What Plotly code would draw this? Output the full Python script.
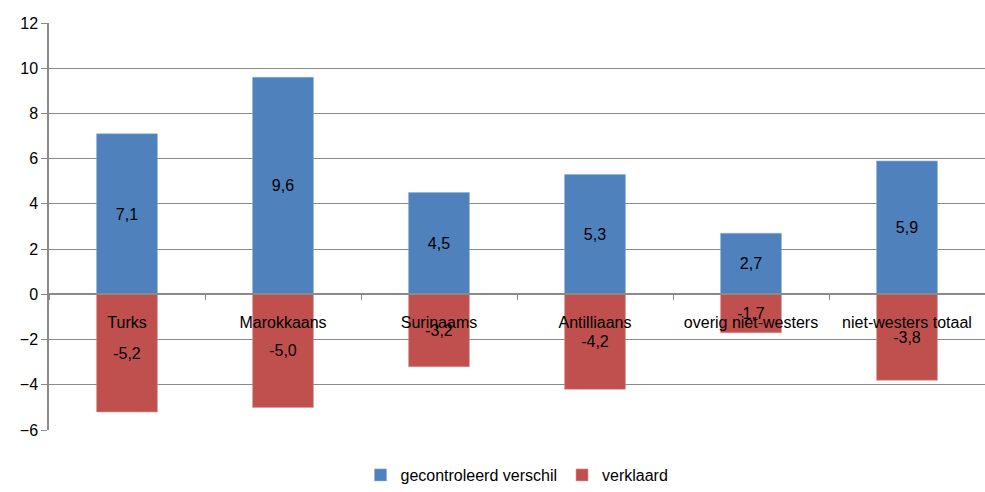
import plotly.graph_objects as go

categories = ["Turks", "Marokkaans", "Surinaams", "Antilliaans",
              "overig niet-westers", "niet-westers totaal"]
gecontroleerd = [7.1, 9.6, 4.5, 5.3, 2.7, 5.9]
verklaard = [-5.2, -5.0, -3.2, -4.2, -1.7, -3.8]
y_ticks = [-6, -4, -2, 0, 2, 4, 6, 8, 10, 12]

FONT = "Liberation Sans, Arial, sans-serif"
GRID = "#8a8a8a"


def fmt(v):
    return f"{v:.1f}".replace(".", ",")


fig = go.Figure()
fig.add_trace(go.Bar(
    x=categories, y=gecontroleerd, name="gecontroleerd verschil",
    marker=dict(color="#4F81BD", line=dict(color="#8fb0d8", width=0.6)),
    text=[fmt(v) for v in gecontroleerd], textposition="inside",
    insidetextanchor="middle", textangle=0,
    textfont=dict(family=FONT, size=16, color="#000000"),
))
fig.add_trace(go.Bar(
    x=categories, y=verklaard, name="verklaard",
    marker=dict(color="#C0504D", line=dict(color="#d89593", width=0.6)),
    text=[fmt(v) for v in verklaard], textposition="inside",
    insidetextanchor="middle", textangle=0,
    textfont=dict(family=FONT, size=16, color="#000000"),
))

fig.update_layout(
    width=985, height=492,
    barmode="relative", bargap=0.61,
    margin=dict(l=49, r=0, t=23, b=62, autoexpand=False),
    plot_bgcolor="white", paper_bgcolor="white",
    font=dict(family=FONT, size=16, color="#000000"),
    uniformtext=dict(mode="show", minsize=10),
    legend=dict(orientation="h", x=0.5, xanchor="center",
                yref="container", y=-0.012, yanchor="bottom",
                font=dict(family=FONT, size=16),
                traceorder="normal", itemwidth=30),
    showlegend=True,
)

fig.update_xaxes(
    anchor="free", position=1 / 3,
    showline=True, linecolor=GRID, linewidth=1.5,
    ticks="outside", tickson="boundaries", ticklen=5, tickcolor=GRID,
    ticklabelstandoff=14,
    tickfont=dict(family=FONT, size=16, color="#000000"),
    showgrid=False, zeroline=False,
)
fig.update_yaxes(
    range=[-6, 12], tickvals=y_ticks,
    showline=True, linecolor=GRID, linewidth=1.5,
    ticks="outside", ticklen=6, tickcolor=GRID,
    showgrid=True, gridcolor=GRID, gridwidth=1.2,
    zeroline=False,
    tickfont=dict(family=FONT, size=16, color="#000000"),
)

fig.write_html("out.html")
